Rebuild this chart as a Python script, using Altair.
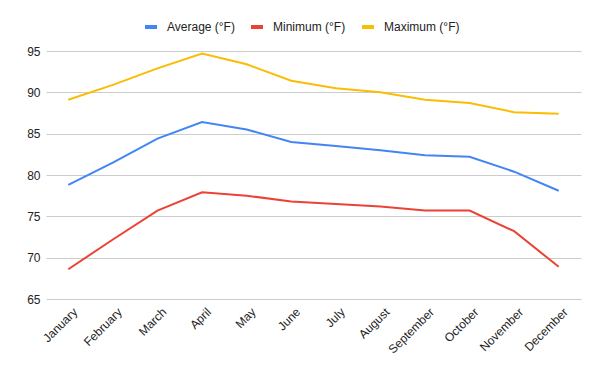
import altair as alt
import pandas as pd

months = ["January", "February", "March", "April", "May", "June", "July",
          "August", "September", "October", "November", "December"]
average_f = [78.8, 81.5, 84.4, 86.4, 85.5, 84.0, 83.5, 83.0, 82.4, 82.2, 80.4, 78.1]
minimum_f = [68.6, 72.2, 75.7, 77.9, 77.5, 76.8, 76.5, 76.2, 75.7, 75.7, 73.2, 68.9]
maximum_f = [89.1, 90.9, 92.9, 94.7, 93.4, 91.4, 90.5, 90.0, 89.1, 88.7, 87.6, 87.4]
series_names = ["Average (°F)", "Minimum (°F)", "Maximum (°F)"]
series_colors = ["#4285F4", "#EA4335", "#FBBC04"]
y_ticks = [65, 70, 75, 80, 85, 90, 95]

rows = []
for name, vals in zip(series_names, [average_f, minimum_f, maximum_f]):
    for i, (m, v) in enumerate(zip(months, vals)):
        rows.append({"month": m, "value": v, "series": name, "order": i})
df = pd.DataFrame(rows)

FONT = "Arial, Liberation Sans, sans-serif"

chart = alt.Chart(df).mark_line(strokeWidth=2).encode(
    x=alt.X("month:N", sort=months,
            scale=alt.Scale(type="point", padding=0.5),
            axis=alt.Axis(title=None, labelAngle=-45, labelAlign="right",
                          labelBaseline="top", ticks=False, domain=False,
                          grid=False, labelPadding=7, labelOffset=3)),
    y=alt.Y("value:Q",
            scale=alt.Scale(domain=[65, 95], nice=False, zero=False),
            axis=alt.Axis(title=None, values=y_ticks, ticks=False, domain=False,
                          labelPadding=6, gridColor="#cccccc")),
    color=alt.Color("series:N",
                    scale=alt.Scale(domain=series_names, range=series_colors),
                    legend=alt.Legend(title=None, orient="none", direction="horizontal",
                                      legendX=97, legendY=-32,
                                      symbolType="stroke", symbolStrokeWidth=4,
                                      symbolSize=144, labelOffset=8,
                                      columnPadding=8)),
    order="order:Q",
).properties(
    width=535, height=248,
    autosize=alt.AutoSizeParams(type="none"),
    padding={"left": 38, "top": 43, "right": 11, "bottom": 64},
).configure_view(
    stroke=None
).configure_axis(
    labelFont=FONT, labelFontSize=12, labelColor="#222222"
).configure_legend(
    labelFont=FONT, labelFontSize=12, labelColor="#222222"
)

chart.save("out.html", embed_options={"renderer": "svg", "actions": False})
